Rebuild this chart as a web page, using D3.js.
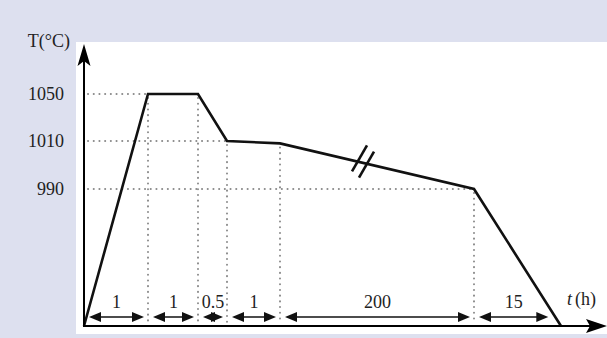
<!DOCTYPE html>
<html>
<head>
<meta charset="utf-8">
<script src="https://cdn.jsdelivr.net/npm/d3@7"></script>
<style>
    html, body { margin: 0; padding: 0; background: #dde0ef; }
    svg { display: block; }
    text { font-family: "Liberation Serif", "Times New Roman", Times, "DejaVu Serif", serif; fill: #222; }
</style>
</head>
<body>
<svg id="canvas"></svg>
<script>
// Heat treatment schedule (schematic, axes are not to scale)
const durations = [1, 1, 0.5, 1, 200, 15]; // hours for each stage
const durationLabels = ["1", "1", "0.5", "1", "200", "15"];
const temps = [25, 1050, 1050, 1010, 1009, 990, 25]; // °C at each breakpoint
const tempTicks = [1050, 1010, 990];
const tempAxisLabel = "T(°C)";
const timeAxisLabel = "(h)";

const width = 607;
const height = 338;
const fontSize = 18;

const svg = d3.select("#canvas").attr("width", width).attr("height", height);

// cumulative times
const times = [0];
durations.forEach((d) => times.push(times[times.length - 1] + d));

// piecewise scales (the drawing is schematic)
const x = d3.scaleLinear().domain(times).range([84, 148, 198, 227, 280, 474, 561]);
const y = d3.scaleLinear().domain([25, 990, 1010, 1050]).range([326, 189, 141, 94]);

const x0 = x(0);
const y0 = y(25);

// white plot panel
svg.append("rect")
    .attr("x", 76)
    .attr("y", 42)
    .attr("width", width - 76)
    .attr("height", 292)
    .attr("fill", "#fff");

// guide lines (dotted)
const dotted = svg.append("g")
    .attr("stroke", "#8a8a8a")
    .attr("stroke-width", 2)
    .attr("stroke-linecap", "round")
    .attr("stroke-dasharray", "0.1 5.6");

// horizontal: from axis to first point reaching each level
tempTicks.forEach((t) => {
    const i = temps.indexOf(t);
    dotted.append("line")
        .attr("x1", x0 + 4).attr("x2", x(times[i]))
        .attr("y1", y(t)).attr("y2", y(t));
});

// vertical: from each interior breakpoint down to axis
for (let i = 1; i < times.length - 1; i++) {
    dotted.append("line")
        .attr("x1", x(times[i])).attr("x2", x(times[i]))
        .attr("y1", y(temps[i]) + 4).attr("y2", y0 - 2);
}

// temperature profile
const line = d3.line()
    .x((d, i) => x(times[i]))
    .y((d) => y(d));

svg.append("path")
    .datum(temps)
    .attr("d", line)
    .attr("fill", "none")
    .attr("stroke", "#111")
    .attr("stroke-width", 2.6)
    .attr("stroke-linejoin", "miter");

// break marks on the long hold
const bx = 363, by = y(1010) + (y(990) - y(1010)) * (bx - x(times[4])) / (x(times[5]) - x(times[4]));
[-3.5, 3.5].forEach((off) => {
    const cx = bx + off, cy = by + off * 0.9;
    svg.append("line")
        .attr("x1", cx + 7.5).attr("y1", cy - 13)
        .attr("x2", cx - 7.5).attr("y2", cy + 13)
        .attr("stroke", "#111")
        .attr("stroke-width", 2.6);
});

// axes
const axes = svg.append("g");
axes.append("line")
    .attr("x1", x0).attr("y1", y0)
    .attr("x2", x0).attr("y2", 58)
    .attr("stroke", "#000").attr("stroke-width", 2);
axes.append("path")
    .attr("d", `M${x0},44 L${x0 - 6.5},66 L${x0},61 L${x0 + 6.5},66 Z`)
    .attr("fill", "#000");
axes.append("line")
    .attr("x1", x0 - 1).attr("y1", y0)
    .attr("x2", 592).attr("y2", y0)
    .attr("stroke", "#000").attr("stroke-width", 2);
axes.append("path")
    .attr("d", `M607,${y0} L586,${y0 - 7} L590,${y0} L586,${y0 + 7} Z`)
    .attr("fill", "#000");

// y tick labels
svg.append("g")
    .attr("transform", `translate(${x0},0)`)
    .call(d3.axisLeft(y).tickValues(tempTicks).tickSize(0).tickPadding(20).tickFormat(d3.format("d")))
    .call((g) => g.select(".domain").remove())
    .attr("font-family", null)
    .attr("font-size", null)
    .selectAll("text")
    .attr("font-size", fontSize)
    .attr("fill", "#222");

svg.append("text")
    .attr("x", 70)
    .attr("y", 47)
    .attr("text-anchor", "end")
    .attr("font-size", fontSize)
    .text(tempAxisLabel);

const tLabel = svg.append("text")
    .attr("x", 567)
    .attr("y", 305)
    .attr("font-size", fontSize);
tLabel.append("tspan").attr("font-style", "italic").text("t");
tLabel.append("tspan").attr("dx", 3).text(timeAxisLabel);

// duration arrows
const arrowY = 317;
const slopeEnd = (arrowY - y(990)) / (y0 - y(990)); // fraction of last descent
const lastX = x(times[5]) + (x(times[6]) - x(times[5])) * slopeEnd;

function arrowHead(px, dir) {
    // dir = 1 points right, -1 points left
    return `M${px},${arrowY} L${px - dir * 12},${arrowY - 5} L${px - dir * 12},${arrowY + 5} Z`;
}

const arrows = svg.append("g");
durations.forEach((d, i) => {
    const a = x(times[i]) + 5;
    const b = i === durations.length - 1 ? lastX - 7 : x(times[i + 1]) - 4;
    arrows.append("line")
        .attr("x1", a + 4).attr("x2", b - 4)
        .attr("y1", arrowY).attr("y2", arrowY)
        .attr("stroke", "#111").attr("stroke-width", 1.6);
    arrows.append("path").attr("d", arrowHead(a, -1)).attr("fill", "#111");
    arrows.append("path").attr("d", arrowHead(b, 1)).attr("fill", "#111");
    arrows.append("text")
        .attr("x", (a + b) / 2)
        .attr("y", 308)
        .attr("text-anchor", "middle")
        .attr("font-size", fontSize)
        .text(durationLabels[i]);
});
</script>
</body>
</html>
